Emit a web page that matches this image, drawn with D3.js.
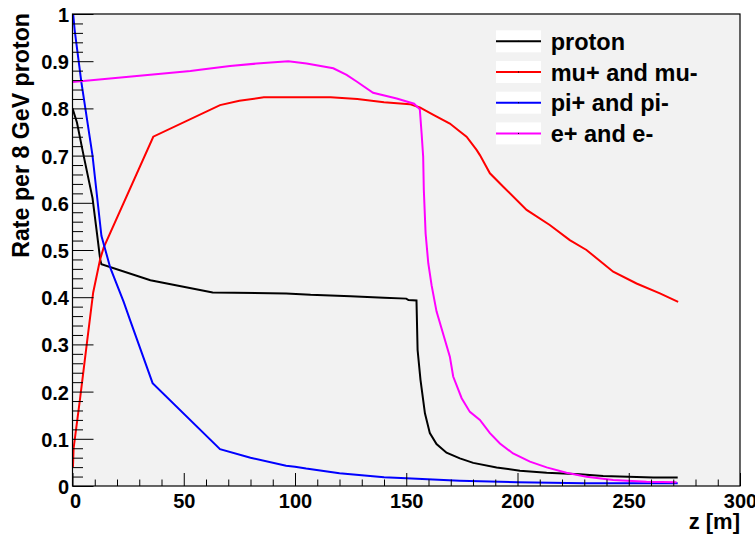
<!DOCTYPE html>
<html>
<head>
<meta charset="utf-8">
<script src="https://cdn.jsdelivr.net/npm/d3@7"></script>
<style>
  html, body { margin: 0; padding: 0; background: #ffffff; }
  svg { display: block; }
  text { font-family: "Liberation Sans", Arial, Helvetica, sans-serif; font-weight: bold; fill: #000; }
</style>
</head>
<body>
<svg id="chart" width="755" height="537"></svg>
<script>
// Rate per 8 GeV proton along the beam line, z in metres: [z, rate]
const proton = [
  [0, 0.80], [2, 0.77], [5, 0.70], [9, 0.61], [11, 0.535], [12.5, 0.478], [13, 0.47],
  [35, 0.436], [63, 0.41], [96, 0.408], [107, 0.405], [125, 0.402], [140, 0.399],
  [150, 0.397], [151, 0.394], [154.6, 0.393], [155.1, 0.288], [156.4, 0.225],
  [158.4, 0.154], [160.6, 0.112], [163.6, 0.089], [168.1, 0.0706], [174.1, 0.0586],
  [180.1, 0.049], [190.6, 0.039], [201.1, 0.0325], [213.1, 0.028], [228, 0.0247],
  [238.5, 0.021], [261, 0.018], [272, 0.018]
];
const muons = [
  [0.2, 0.04], [0.5, 0.08], [3.4, 0.185], [6.4, 0.30], [9.3, 0.41], [12.4, 0.48],
  [14, 0.505], [36.3, 0.74], [66.3, 0.807], [75, 0.816], [86, 0.8235], [116, 0.8235],
  [128, 0.82], [140, 0.813], [151.6, 0.809], [156.1, 0.802], [162, 0.787],
  [169.6, 0.768], [174.1, 0.751], [177.1, 0.74], [181.6, 0.712], [183.1, 0.701],
  [187.6, 0.6625], [193.6, 0.634], [204.1, 0.585], [214.5, 0.553], [223.5, 0.521],
  [231, 0.5], [243, 0.454], [253.5, 0.429], [264, 0.408], [272.2, 0.39]
];
const pions = [
  [0.3, 1.0], [1, 0.965], [4, 0.855], [9, 0.70], [13, 0.53], [17, 0.462], [23, 0.39],
  [26, 0.35], [36, 0.218], [66.3, 0.078], [80, 0.06], [96, 0.043], [100, 0.041],
  [105, 0.037], [120, 0.027], [140, 0.0184], [150, 0.0163], [174, 0.0113],
  [200, 0.0078], [230, 0.0057], [272, 0.0057]
];
const electrons = [
  [0, 0.856], [53, 0.879], [57.3, 0.882], [70.8, 0.89], [82.8, 0.895], [97, 0.9],
  [105.2, 0.895], [117.2, 0.885], [123.2, 0.871], [127.7, 0.857], [135.1, 0.833],
  [145.7, 0.821], [153.5, 0.81], [156.1, 0.798], [156.9, 0.747], [157.6, 0.698],
  [157.9, 0.627], [158.7, 0.535], [159.9, 0.472], [161.4, 0.425], [163.6, 0.37],
  [169.6, 0.274], [171.1, 0.232], [174.9, 0.186], [178.6, 0.157], [183.1, 0.14],
  [187.6, 0.112], [192.1, 0.09], [198, 0.069], [205.6, 0.0515], [213.1, 0.0395],
  [222, 0.028], [231, 0.0197], [243, 0.0127], [258, 0.0091], [271.5, 0.0078]
];

const seriesNames = ["proton", "mu+ and mu-", "pi+ and pi-", "e+ and e-"];
const seriesColors = ["#000000", "#ff0000", "#0000ff", "#ff00ff"];
const seriesData = [proton, muons, pions, electrons];

const xMajorTicks = [0, 50, 100, 150, 200, 250, 300];
const yMajorTicks = [0, 0.1, 0.2, 0.3, 0.4, 0.5, 0.6, 0.7, 0.8, 0.9, 1];
const xTitle = "z [m]";
const yTitle = "Rate per 8 GeV proton";

// frame geometry
const frameL = 72.5, frameR = 740, frameT = 14, frameB = 486;

const svg = d3.select("#chart");
const x = d3.scaleLinear().domain([0, 300]).range([frameL, frameR]);
const y = d3.scaleLinear().domain([0, 1]).range([frameB, frameT]);

// pad background
svg.append("rect").attr("x", 0).attr("y", 0).attr("width", 755).attr("height", 537).attr("fill", "#ffffff");
svg.append("rect").attr("x", frameL).attr("y", frameT).attr("width", frameR - frameL).attr("height", frameB - frameT)
  .attr("fill", "#f2f2f2");

svg.append("defs").append("clipPath").attr("id", "plotclip")
  .append("rect").attr("x", frameL).attr("y", frameT - 1).attr("width", frameR - frameL).attr("height", frameB - frameT + 1);

// curves
const line = d3.line().x(d => x(d[0])).y(d => y(d[1]));
const curves = svg.append("g").attr("clip-path", "url(#plotclip)");
seriesData.forEach((data, i) => {
  curves.append("path").datum(data).attr("d", line)
    .attr("fill", "none").attr("stroke", seriesColors[i]).attr("stroke-width", 2)
    .attr("stroke-linejoin", "miter");
});

// x axis: major ticks every 50, minor every 10
const xMinor = d3.range(0, 301, 10).filter(v => v % 50 !== 0);
const xAxis = d3.axisBottom(x).tickValues(xMajorTicks).tickSize(-13).tickFormat(d3.format("d")).tickPadding(0);
const gx = svg.append("g").attr("transform", `translate(0,${frameB})`).call(xAxis);
gx.select(".domain").remove();
gx.selectAll(".tick text").attr("font-size", 20).attr("y", 21.5).attr("dy", 0)
  .style("font-family", "'Liberation Sans', Arial, sans-serif").style("font-weight", "bold");
gx.selectAll(".tick").filter(d => d === 0).select("text").attr("dx", 2.5);
const gxm = svg.append("g").attr("transform", `translate(0,${frameB})`)
  .call(d3.axisBottom(x).tickValues(xMinor).tickSize(-6.5).tickFormat(""));
gxm.select(".domain").remove();

// y axis: major ticks every 0.1, minor every 0.02
const yMinor = d3.range(0, 51).map(k => k / 50).filter((v, k) => k % 5 !== 0);
const yAxis = d3.axisLeft(y).tickValues(yMajorTicks).tickSize(-21).tickPadding(0)
  .tickFormat(d => d === 0 ? "0" : d === 1 ? "1" : d3.format(".1f")(d));
const gy = svg.append("g").attr("transform", `translate(${frameL},0)`).call(yAxis);
gy.select(".domain").remove();
gy.selectAll(".tick text").attr("font-size", 20).attr("x", -3.5).attr("dy", 7.5)
  .attr("text-anchor", "end")
  .style("font-family", "'Liberation Sans', Arial, sans-serif").style("font-weight", "bold");
const gym = svg.append("g").attr("transform", `translate(${frameL},0)`)
  .call(d3.axisLeft(y).tickValues(yMinor).tickSize(-10.5).tickFormat(""));
gym.select(".domain").remove();
svg.selectAll(".tick line").attr("stroke", "#000").attr("stroke-width", 1);

// frame
svg.append("rect").attr("x", frameL).attr("y", frameT).attr("width", frameR - frameL).attr("height", frameB - frameT)
  .attr("fill", "none").attr("stroke", "#000").attr("stroke-width", 1.2);

// axis titles
svg.append("text").attr("x", frameR).attr("y", 529).attr("text-anchor", "end")
  .attr("font-size", 22).text(xTitle);
svg.append("text").attr("transform", `translate(28.5,13) rotate(-90)`).attr("text-anchor", "end")
  .attr("font-size", 23.2).text(yTitle);

// legend
const legend = svg.append("g");
seriesNames.forEach((name, i) => {
  const ly = 41.3 + i * 30.7;
  legend.append("rect").attr("x", 496).attr("y", ly - 11).attr("width", 45).attr("height", 22).attr("fill", "#ffffff");
  legend.append("line").attr("x1", 496).attr("x2", 541).attr("y1", ly).attr("y2", ly)
    .attr("stroke", seriesColors[i]).attr("stroke-width", 2);
  legend.append("rect").attr("x", 518).attr("y", ly - 0.5).attr("width", 1).attr("height", 1).attr("fill", "#000");
  legend.append("text").attr("x", 550.7).attr("y", ly + 8.5).attr("font-size", 23.5).text(name);
});
</script>
</body>
</html>
